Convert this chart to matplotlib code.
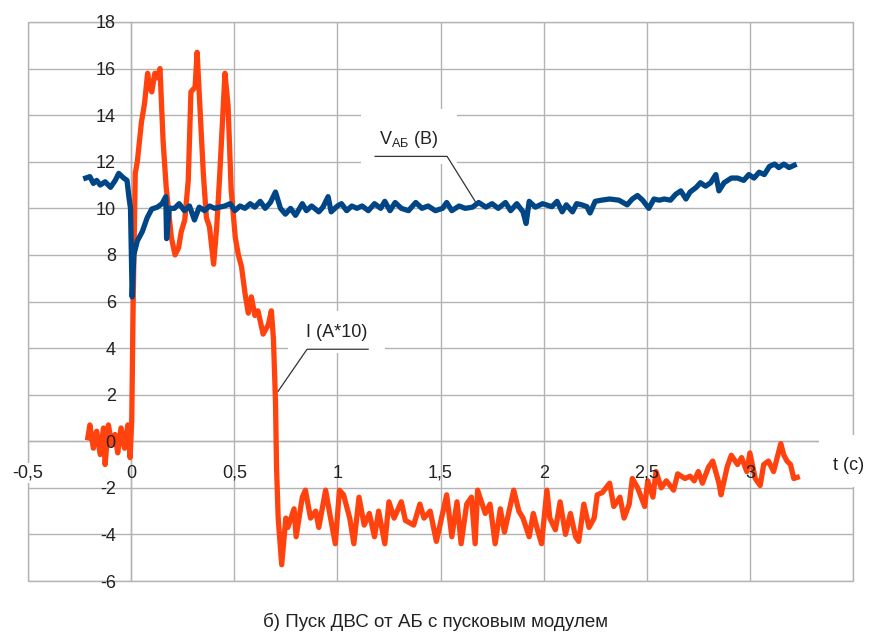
import matplotlib
matplotlib.use("Agg")
import matplotlib.pyplot as plt
from matplotlib.patches import Rectangle

plt.rcParams['font.family'] = ['Liberation Sans', 'DejaVu Sans']
plt.rcParams['mathtext.fontset'] = 'custom'
plt.rcParams['mathtext.rm'] = 'Liberation Sans'

# --- data ---
# current, I (A*10)
i_t = [-0.21, -0.20, -0.183, -0.167, -0.15, -0.134, -0.126, -0.11, -0.094, -0.078,
       -0.065, -0.049, -0.032, -0.016, -0.005, 0.003, 0.01, 0.02, 0.03, 0.05,
       0.065, 0.08, 0.09, 0.10, 0.115, 0.125, 0.14, 0.155, 0.17, 0.195,
       0.213, 0.23, 0.243, 0.26, 0.277, 0.29, 0.31, 0.32, 0.335, 0.35,
       0.365, 0.38, 0.40, 0.415, 0.43, 0.455, 0.47, 0.485, 0.505, 0.52,
       0.535, 0.553, 0.568, 0.583, 0.60, 0.615, 0.64, 0.665, 0.68, 0.69,
       0.70, 0.705, 0.713, 0.73, 0.75, 0.76, 0.79, 0.80, 0.83, 0.845,
       0.87, 0.895, 0.91, 0.943, 0.967, 0.99, 1.01, 1.03, 1.06, 1.08,
       1.105, 1.13, 1.155, 1.18, 1.20, 1.23, 1.25, 1.275, 1.31, 1.33,
       1.37, 1.40, 1.42, 1.45, 1.48, 1.505, 1.53, 1.555, 1.58, 1.60,
       1.627, 1.65, 1.668, 1.68, 1.717, 1.74, 1.765, 1.79, 1.81, 1.855,
       1.88, 1.90, 1.93, 1.95, 1.97, 1.99, 2.016, 2.03, 2.057, 2.08,
       2.106, 2.13, 2.155, 2.17, 2.195, 2.22, 2.245, 2.26, 2.285, 2.32,
       2.34, 2.37, 2.39, 2.415, 2.43, 2.456, 2.49, 2.505, 2.53, 2.545,
       2.57, 2.595, 2.63, 2.65, 2.685, 2.71, 2.73, 2.75, 2.77, 2.80,
       2.82, 2.85, 2.86, 2.89, 2.91, 2.94, 2.96, 2.985, 3.0, 3.026,
       3.05, 3.067, 3.09, 3.115, 3.15, 3.165, 3.18, 3.197, 3.213, 3.23]
i_val = [0.15, 0.7, -0.3, 0.43, -0.57, 0.57, -1.0, 0.7, -0.14, 0.29,
         -0.5, 0.57, -0.3, 0.7, -0.7, 0.9, 6.0, 11.5, 12.0, 13.7,
         14.5, 15.8, 15.2, 15.0, 15.8, 15.6, 16.0, 12.9, 10.9, 8.75,
         8.0, 8.3, 9.0, 9.5, 11.2, 15.0, 15.2, 16.7, 14.1, 11.5,
         9.6, 9.2, 7.6, 9.2, 11.5, 15.8, 14.4, 10.8, 8.75, 8.0,
         7.5, 6.3, 5.5, 6.2, 5.4, 5.6, 4.6, 5.0, 5.6, 4.4,
         1.7, -1.1, -3.3, -5.3, -3.3, -3.7, -2.9, -4.1, -2.4, -2.1,
         -3.3, -3.0, -3.7, -2.1, -3.3, -4.4, -2.1, -2.3, -3.3, -4.4,
         -2.4, -3.6, -3.1, -4.1, -3.0, -4.4, -2.6, -3.3, -2.6, -3.4,
         -3.6, -2.7, -3.3, -3.0, -4.3, -3.3, -2.3, -4.1, -2.6, -4.4,
         -2.7, -2.4, -4.4, -2.1, -3.1, -2.7, -4.4, -2.9, -3.9, -2.1,
         -3.0, -3.3, -4.1, -3.1, -3.8, -4.4, -2.1, -3.3, -3.8, -2.6,
         -4.0, -3.1, -4.1, -4.3, -2.7, -3.7, -3.3, -2.3, -2.2, -1.8,
         -2.8, -2.4, -3.3, -2.7, -1.6, -2.0, -2.8, -1.7, -2.4, -1.3,
         -2.0, -1.7, -2.1, -1.4, -1.6, -1.5, -1.7, -1.3, -1.8, -1.1,
         -0.85, -1.8, -2.3, -1.1, -0.6, -1.0, -0.7, -1.3, -0.5, -1.6,
         -1.9, -1.0, -0.85, -1.3, -0.1, -0.6, -0.85, -1.0, -1.6, -1.55]

# battery voltage, V_AB (V)
v_t = [-0.22, -0.20, -0.183, -0.167, -0.15, -0.126, -0.10, -0.077, -0.06, -0.036,
       -0.02, -0.011, -0.003, 0.005, 0.013, 0.03, 0.054, 0.078, 0.10, 0.127,
       0.15, 0.168, 0.172, 0.185, 0.21, 0.233, 0.258, 0.283, 0.307, 0.33,
       0.356, 0.38, 0.405, 0.43, 0.454, 0.48, 0.503, 0.528, 0.552, 0.577,
       0.60, 0.626, 0.65, 0.675, 0.70, 0.724, 0.748, 0.773, 0.797, 0.83,
       0.85, 0.875, 0.91, 0.93, 0.955, 0.97, 1.0, 1.02, 1.045, 1.07,
       1.095, 1.12, 1.15, 1.18, 1.21, 1.23, 1.255, 1.28, 1.31, 1.345,
       1.38, 1.41, 1.44, 1.475, 1.51, 1.53, 1.555, 1.59, 1.62, 1.655,
       1.685, 1.72, 1.75, 1.78, 1.815, 1.84, 1.87, 1.90, 1.915, 1.93,
       1.96, 1.995, 2.04, 2.065, 2.09, 2.11, 2.14, 2.16, 2.185, 2.21,
       2.225, 2.25, 2.28, 2.32, 2.365, 2.405, 2.43, 2.455, 2.48, 2.51,
       2.535, 2.56, 2.585, 2.615, 2.64, 2.665, 2.69, 2.71, 2.74, 2.76,
       2.785, 2.81, 2.835, 2.85, 2.875, 2.91, 2.94, 2.97, 2.995, 3.02,
       3.045, 3.07, 3.095, 3.12, 3.14, 3.165, 3.19, 3.215]
v_val = [11.3, 11.36, 11.07, 11.2, 11.0, 11.14, 10.9, 11.2, 11.5, 11.3,
         11.2, 10.5, 10.0, 6.2, 8.0, 8.6, 9.0, 9.6, 9.97, 10.05,
         10.2, 10.5, 8.7, 10.0, 10.0, 10.2, 9.9, 10.1, 9.5, 10.05,
         9.9, 10.1, 10.0, 10.05, 10.1, 10.2, 9.9, 10.1, 10.0, 10.2,
         10.05, 10.3, 10.0, 10.25, 10.7, 10.0, 9.75, 10.0, 9.7, 10.2,
         9.9, 10.1, 9.85, 10.05, 10.5, 9.85, 10.1, 10.2, 9.9, 10.1,
         10.0, 10.1, 9.9, 10.2, 10.0, 10.3, 9.9, 10.25, 10.0, 9.9,
         10.25, 10.0, 10.1, 9.9, 10.0, 10.25, 9.9, 10.1, 10.0, 10.05,
         10.25, 10.05, 10.2, 10.0, 10.25, 9.9, 10.2, 9.85, 9.35, 10.3,
         10.05, 10.2, 10.07, 10.3, 9.85, 10.15, 9.85, 10.2, 10.15, 10.07,
         9.8, 10.3, 10.35, 10.4, 10.35, 10.15, 10.4, 10.55, 10.35, 10.0,
         10.4, 10.35, 10.4, 10.35, 10.6, 10.75, 10.4, 10.7, 10.9, 11.1,
         10.95, 11.1, 11.45, 10.75, 11.1, 11.3, 11.3, 11.2, 11.45, 11.3,
         11.55, 11.45, 11.8, 11.9, 11.75, 11.9, 11.75, 11.85]

x_ticks = [-0.5, 0, 0.5, 1, 1.5, 2, 2.5, 3, 3.5]
x_labels = ["-0,5", "0", "0,5", "1", "1,5", "2", "2,5", "3", ""]
y_ticks = [-6, -4, -2, 0, 2, 4, 6, 8, 10, 12, 14, 16, 18]
y_labels = [str(v) for v in y_ticks]

caption = "б) Пуск ДВС от АБ с пусковым модулем"

ORANGE = "#ff420e"
BLUE = "#004586"
GRID = "#b3b3b3"
TXT = "#222222"

fig = plt.figure(figsize=(8.71, 6.36), dpi=100)
rect = [28 / 871, 1 - 581 / 636, 825 / 871, 559 / 636]
ax = fig.add_axes(rect)

ax.set_xlim(-0.5, 3.5)
ax.set_ylim(-6, 18)

# axes cross at the origin, outer frame drawn by the axes patch
ax.spines['left'].set_position(('data', 0))
ax.spines['bottom'].set_position(('data', 0))
for side in ['left', 'bottom']:
    ax.spines[side].set_color(GRID)
    ax.spines[side].set_linewidth(1.0)
for side in ['top', 'right']:
    ax.spines[side].set_visible(False)
ax.patch.set_edgecolor(GRID)
ax.patch.set_linewidth(1.0)

ax.set_xticks(x_ticks)
ax.set_yticks(y_ticks)
ax.tick_params(axis='both', length=0, labelbottom=False, labelleft=False)
ax.grid(True, color=GRID, linewidth=1.0)
ax.set_axisbelow(True)

ax.plot(i_t, i_val, color=ORANGE, lw=3.8, zorder=4, solid_joinstyle='round')
ax.plot(v_t, v_val, color=BLUE, lw=3.8, zorder=4.5, solid_joinstyle='round')

# white boxes behind the data labels (they hide the grid)
ax.add_patch(Rectangle((1.115, 11.9), 0.465, 2.35, facecolor='white',
                       edgecolor='none', zorder=3))
ax.add_patch(Rectangle((0.76, 3.8), 0.47, 1.8, facecolor='white',
                       edgecolor='none', zorder=3))
ax.add_patch(Rectangle((3.335, -1.95), 0.3, 2.2, facecolor='white',
                       edgecolor='none', zorder=3, clip_on=False))

# data labels with leader lines
ax.text(1.345, 12.95, r'V$_{\mathregular{АБ}}$ (В)', fontsize=13, color=TXT,
        ha='center', va='center', zorder=6)
ax.plot([1.183, 1.532, 1.668], [12.23, 12.23, 10.3], color='#333333', lw=0.9, zorder=5)

ax.text(0.995, 4.68, "I (А*10)", fontsize=13, color=TXT,
        ha='center', va='center', zorder=6)
ax.plot([1.149, 0.853, 0.713], [3.95, 3.95, 2.15], color='#333333', lw=0.9, zorder=5)

ax.text(3.48, -1.05, "t (с)", fontsize=13, color=TXT,
        ha='center', va='center', zorder=6, clip_on=False)

# tick labels live on a transparent overlay so they sit on top of the traces
lab = fig.add_axes(rect, sharex=ax, sharey=ax)
lab.patch.set_visible(False)
lab.spines['left'].set_position(('data', 0))
lab.spines['bottom'].set_position(('data', 0))
for s in lab.spines.values():
    s.set_visible(False)
lab.set_xticks(x_ticks)
lab.set_xticklabels(x_labels)
lab.set_yticks(y_ticks)
lab.set_yticklabels(y_labels)
lab.tick_params(axis='both', length=0, labelsize=13, labelcolor=TXT)
lab.tick_params(axis='x', pad=17)
lab.tick_params(axis='y', pad=11)
lab.get_xticklabels()[0].set_bbox(dict(facecolor='white', edgecolor='none', pad=1))

fig.text(0.4995, 1 - 622 / 636, caption, fontsize=13.5, color=TXT,
         ha='center', va='center')

fig.savefig("out.png", dpi=100)
